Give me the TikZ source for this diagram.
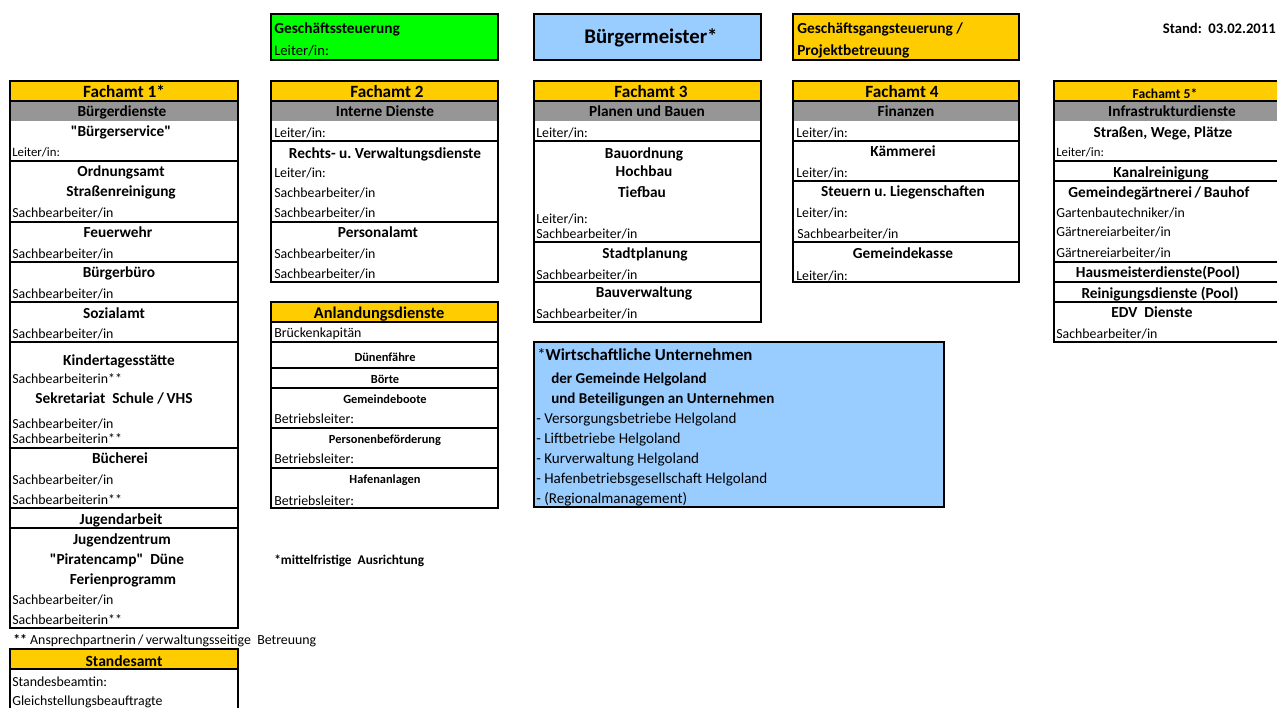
\documentclass[tikz,border=0pt]{standalone}
\usepackage{fontspec}
\setmainfont{Carlito}[Ligatures=TeXOff]
\frenchspacing

\definecolor{amtgelb}{HTML}{FFCC00}
\definecolor{amtgrau}{HTML}{969696}
\definecolor{hellblau}{HTML}{99CCFF}
\definecolor{gruen}{HTML}{00FF00}

\begin{document}
\begin{tikzpicture}[x=0.75pt, y=-0.75pt,
    rahmen/.style={line width=1.4pt},
    kopf/.style={inner sep=0pt, font=\bfseries\fontsize{12.9}{14}\selectfont, text height=10.9pt, text depth=1.9pt},
    titel/.style={inner sep=0pt, font=\bfseries\fontsize{11.5}{13}\selectfont, text height=9.9pt, text depth=1.7pt},
    betrieb/.style={inner sep=0pt, font=\bfseries\fontsize{9.3}{11}\selectfont, text height=8.3pt, text depth=1.4pt},
    eintrag/.style={anchor=west, inner sep=0pt, font=\fontsize{10.4}{12}\selectfont, text height=9.1pt, text depth=1.6pt},
    leiter/.style={eintrag, font=\fontsize{9.6}{11}\selectfont, text height=8.5pt, text depth=1.4pt},
    links/.style={anchor=west}]
    \useasboundingbox (0,0) rectangle (1277,707);

    % Leitung
    \filldraw[rahmen, fill=gruen] (271,14) rectangle (498,60);
    \node [titel, links] (steuerung) at (274,28) {Geschäftssteuerung};
    \node [eintrag, font=\fontsize{11}{13}\selectfont] (steuerung-l) at (274,50) {Leiter/in:};
    \filldraw[rahmen, fill=hellblau] (534,14) rectangle (761,60);
    \node [inner sep=0pt, font=\bfseries\fontsize{15.6}{18}\selectfont] (bgm) at (651,38) {Bürgermeister*};
    \filldraw[rahmen, fill=amtgelb] (793,14) rectangle (1019,60);
    \node [titel, links] (gang) at (797,28) {Geschäftsgangsteuerung /};
    \node [titel, links] (projekt) at (797,50) {Projektbetreuung};
    \node [titel, anchor=east, font=\bfseries\fontsize{11}{13}\selectfont] (stand) at (1276,28) {Stand:\ \ 03.02.2011};

    % Fachamt 1
    \fill[amtgelb] (10,81) rectangle (238,101);
    \fill[amtgrau] (10,101) rectangle (238,121);
    \draw[rahmen] (10,81) rectangle (238,628);
    \draw[rahmen] (10,101) -- (238,101) (10,161) -- (238,161) (10,222) -- (238,222)
        (10,262) -- (238,262) (10,302) -- (238,302) (10,342) -- (238,342)
        (10,448) -- (238,448) (10,508) -- (238,508) (10,528) -- (238,528);
    \node [kopf] (amt1) at (124,91) {Fachamt 1*};
    \node [titel] (amt1dienst) at (122,111) {Bürgerdienste};
    \node [titel] (bservice) at (121,131) {"Bürgerservice"};
    \node [leiter] (bservice-l) at (12,152) {Leiter/in:};
    \node [titel] (ordnung) at (121,171) {Ordnungsamt};
    \node [titel] (strassen) at (121,191) {Straßenreinigung};
    \node [eintrag] (ordnung-sb) at (12,212) {Sachbearbeiter/in};
    \node [titel] (feuerwehr) at (118,232) {Feuerwehr};
    \node [eintrag] (feuerwehr-sb) at (12,253) {Sachbearbeiter/in};
    \node [titel] (buero) at (119,272) {Bürgerbüro};
    \node [eintrag] (buero-sb) at (12,293) {Sachbearbeiter/in};
    \node [titel] (sozial) at (114,313) {Sozialamt};
    \node [eintrag] (sozial-sb) at (12,333) {Sachbearbeiter/in};
    \node [titel] (kita) at (119,360) {Kindertagesstätte};
    \node [eintrag] (kita-sb) at (12,378) {Sachbearbeiterin**};
    \node [titel] (schule) at (114,398) {Sekretariat\ \ Schule /\,VHS};
    \node [eintrag] (schule-sb1) at (12,423) {Sachbearbeiter/in};
    \node [eintrag] (schule-sb2) at (12,438) {Sachbearbeiterin**};
    \node [titel] (buecherei) at (120,458) {Bücherei};
    \node [eintrag] (buecherei-sb1) at (12,479) {Sachbearbeiter/in};
    \node [eintrag] (buecherei-sb2) at (12,499) {Sachbearbeiterin**};
    \node [titel] (jugend) at (121,519) {Jugendarbeit};
    \node [titel] (jzentrum) at (122,539) {Jugendzentrum};
    \node [titel] (piraten) at (117,559) {"Piratencamp"\ \ Düne};
    \node [titel] (ferien) at (123,579) {Ferienprogramm};
    \node [eintrag] (jugend-sb1) at (12,599) {Sachbearbeiter/in};
    \node [eintrag] (jugend-sb2) at (12,619) {Sachbearbeiterin**};
    \node [eintrag] (fussnote) at (13,639) {\textbf{**} Ansprechpartnerin\,/\,verwaltungsseitige\ \ Betreuung};

    % Standesamt
    \fill[amtgelb] (10,649) rectangle (238,669);
    \draw[rahmen] (10,649) rectangle (238,730);
    \draw[rahmen] (10,669) -- (238,669);
    \node [kopf, font=\bfseries\fontsize{11.7}{13}\selectfont] (standesamt) at (124,660) {Standesamt};
    \node [eintrag] (standesamt-l) at (12,681) {Standesbeamtin:};
    \node [eintrag] (gleich) at (12,700) {Gleichstellungsbeauftragte};

    % Fachamt 2
    \fill[amtgelb] (271,81) rectangle (498,101);
    \fill[amtgrau] (271,101) rectangle (498,121);
    \draw[rahmen] (271,81) rectangle (498,282);
    \draw[rahmen] (271,101) -- (498,101) (271,141) -- (498,141) (271,222) -- (498,222);
    \node [kopf] (amt2) at (387,91) {Fachamt 2};
    \node [titel] (amt2dienst) at (385,111) {Interne Dienste};
    \node [eintrag] (amt2-l) at (274,132) {Leiter/in:};
    \node [titel] (recht) at (385,153) {Rechts- u. Verwaltungsdienste};
    \node [eintrag] (recht-l) at (274,172) {Leiter/in:};
    \node [eintrag] (recht-sb1) at (274,192) {Sachbearbeiter/in};
    \node [eintrag] (recht-sb2) at (274,212) {Sachbearbeiter/in};
    \node [titel] (personal) at (378,232) {Personalamt};
    \node [eintrag] (personal-sb1) at (274,253) {Sachbearbeiter/in};
    \node [eintrag] (personal-sb2) at (274,273) {Sachbearbeiter/in};

    % Anlandungsdienste
    \fill[amtgelb] (271,302) rectangle (498,322);
    \draw[rahmen] (271,302) rectangle (498,508);
    \draw[rahmen] (271,322) -- (498,322) (271,342) -- (498,342) (271,368) -- (498,368)
        (271,388) -- (498,388) (271,428) -- (498,428) (271,468) -- (498,468);
    \node [kopf, font=\bfseries\fontsize{12.3}{14}\selectfont] (anland) at (379,312) {Anlandungsdienste};
    \node [eintrag] (bruecke) at (274,332) {Brückenkapitän};
    \node [betrieb] (duene) at (385,357) {Dünenfähre};
    \node [betrieb] (boerte) at (385,379) {Börte};
    \node [betrieb] (boote) at (385,399) {Gemeindeboote};
    \node [eintrag] (boote-l) at (274,418) {Betriebsleiter:};
    \node [betrieb] (personen) at (385,439) {Personenbeförderung};
    \node [eintrag] (personen-l) at (274,458) {Betriebsleiter:};
    \node [betrieb] (hafen) at (385,479) {Hafenanlagen};
    \node [eintrag] (hafen-l) at (274,500) {Betriebsleiter:};
    \node [titel, links, font=\bfseries\fontsize{10}{12}\selectfont] (mittelfristig) at (274,559) {*mittelfristige\ \ Ausrichtung};

    % Fachamt 3
    \fill[amtgelb] (534,81) rectangle (761,101);
    \fill[amtgrau] (534,101) rectangle (761,121);
    \draw[rahmen] (534,81) rectangle (761,322);
    \draw[rahmen] (534,101) -- (761,101) (534,141) -- (761,141) (534,242) -- (761,242) (534,282) -- (761,282);
    \node [kopf] (amt3) at (651,91) {Fachamt 3};
    \node [titel] (amt3dienst) at (647,111) {Planen und Bauen};
    \node [eintrag] (amt3-l) at (536,132) {Leiter/in:};
    \node [titel] (bauordnung) at (644,153) {Bauordnung};
    \node [titel] (hochbau) at (644,171) {Hochbau};
    \node [titel] (tiefbau) at (642,192) {Tiefbau};
    \node [eintrag] (bau-l) at (536,218) {Leiter/in:};
    \node [eintrag] (bau-sb) at (536,233) {Sachbearbeiter/in};
    \node [titel] (stadtpl) at (645,253) {Stadtplanung};
    \node [eintrag] (stadtpl-sb) at (536,274) {Sachbearbeiter/in};
    \node [titel] (bauverw) at (644,292) {Bauverwaltung};
    \node [eintrag] (bauverw-sb) at (536,313) {Sachbearbeiter/in};

    % Wirtschaftliche Unternehmen
    \filldraw[rahmen, fill=hellblau] (534,342) rectangle (944,507);
    \node [titel, links, font=\bfseries\fontsize{12.6}{14}\selectfont] (wirtschaft) at (537,355) {{\mdseries*}Wirtschaftliche Unternehmen};
    \node [titel, links, font=\bfseries\fontsize{11.3}{13}\selectfont] (gemeinde) at (551,378) {der Gemeinde Helgoland};
    \node [titel, links, font=\bfseries\fontsize{11.3}{13}\selectfont] (beteiligung) at (551,398) {und Beteiligungen an Unternehmen};
    \node [eintrag, font=\fontsize{11.3}{13}\selectfont] (versorgung) at (536,418) {- Versorgungsbetriebe Helgoland};
    \node [eintrag, font=\fontsize{11.3}{13}\selectfont] (lift) at (536,438) {- Liftbetriebe Helgoland};
    \node [eintrag, font=\fontsize{11.3}{13}\selectfont] (kur) at (536,458) {- Kurverwaltung Helgoland};
    \node [eintrag, font=\fontsize{11.3}{13}\selectfont] (hafenbetrieb) at (536,478) {- Hafenbetriebsgesellschaft Helgoland};
    \node [eintrag, font=\fontsize{11.3}{13}\selectfont] (regional) at (536,498) {- (Regionalmanagement)};

    % Fachamt 4
    \fill[amtgelb] (793,81) rectangle (1019,101);
    \fill[amtgrau] (793,101) rectangle (1019,121);
    \draw[rahmen] (793,81) rectangle (1019,282);
    \draw[rahmen] (793,101) -- (1019,101) (793,141) -- (1019,141) (793,181) -- (1019,181) (793,242) -- (1019,242);
    \node [kopf] (amt4) at (902,91) {Fachamt 4};
    \node [titel] (amt4dienst) at (906,111) {Finanzen};
    \node [eintrag] (amt4-l) at (796,132) {Leiter/in:};
    \node [titel] (kaemmerei) at (903,151) {Kämmerei};
    \node [eintrag] (kaemmerei-l) at (796,172) {Leiter/in:};
    \node [titel] (steuern) at (903,191) {Steuern u. Liegenschaften};
    \node [eintrag] (steuern-l) at (796,212) {Leiter/in:};
    \node [eintrag] (steuern-sb) at (797,233) {Sachbearbeiter/in};
    \node [titel] (kasse) at (903,253) {Gemeindekasse};
    \node [eintrag] (kasse-l) at (796,275) {Leiter/in:};

    % Fachamt 5
    \fill[amtgelb] (1054,81) rectangle (1280,101);
    \fill[amtgrau] (1054,101) rectangle (1280,121);
    \draw[rahmen] (1054,81) rectangle (1280,342);
    \draw[rahmen] (1054,101) -- (1280,101) (1054,161) -- (1280,161) (1054,181) -- (1280,181)
        (1054,262) -- (1280,262) (1054,282) -- (1280,282) (1054,302) -- (1280,302);
    \node [kopf, font=\bfseries\fontsize{10.2}{12}\selectfont] (amt5) at (1165,92) {Fachamt 5*};
    \node [titel] (amt5dienst) at (1172,111) {Infrastrukturdienste};
    \node [titel] (wege) at (1163,132) {Straßen, Wege, Plätze};
    \node [leiter] (wege-l) at (1056,152) {Leiter/in:};
    \node [titel] (kanal) at (1161,172) {Kanalreinigung};
    \node [titel] (bauhof) at (1159,192) {Gemeindegärtnerei\,/\,Bauhof};
    \node [eintrag] (bauhof-t) at (1056,212) {Gartenbautechniker/in};
    \node [eintrag] (bauhof-g1) at (1056,231) {Gärtnereiarbeiter/in};
    \node [eintrag] (bauhof-g2) at (1056,252) {Gärtnereiarbeiter/in};
    \node [titel] (hausmeister) at (1158,272) {Hausmeisterdienste(Pool)};
    \node [titel] (reinigung) at (1160,293) {Reinigungsdienste (Pool)};
    \node [titel] (edv) at (1152,312) {EDV\ \ Dienste};
    \node [eintrag] (edv-sb) at (1056,333) {Sachbearbeiter/in};
\end{tikzpicture}
\end{document}
